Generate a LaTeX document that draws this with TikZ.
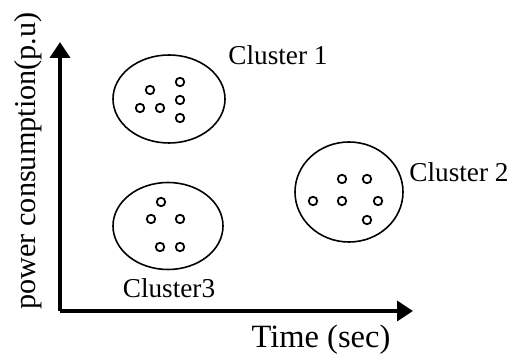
\documentclass[tikz,border=0pt]{standalone}
\usepackage{fontspec}
\setmainfont{Liberation Serif}
\usetikzlibrary{arrows.meta,shapes.geometric}
\tikzset{
  axis/.style={line width=2pt,-{Triangle[length=0.32cm,width=0.4cm]}},
  cluster/.style={draw,ellipse,line width=0.9pt,inner sep=0pt},
  member/.style={draw,line width=1pt},
  lbl/.style={font=\fontsize{15.5}{17}\selectfont,inner sep=0pt}
}
\begin{document}
\begin{tikzpicture}
\useasboundingbox (0,0) rectangle (10.2,7.08);
\coordinate (o) at (1.2,0.86);
\coordinate (ytip) at (1.2,6.24);
\coordinate (xtip) at (8.26,0.86);
\draw[axis] (o)--(ytip);
\draw[axis] (o)--(xtip);
\node[lbl,font=\fontsize{17.2}{19}\selectfont,rotate=90] (ylab) at (0.56,3.86) {power consumption(p.u)};
\node[lbl,font=\fontsize{18.5}{20}\selectfont] (xlab) at (6.42,0.28) {Time (sec)};
% the three clusters
\node[cluster,minimum width=2.24cm,minimum height=1.76cm] (c1) at (3.38,5.1) {};
\node[cluster,minimum width=2.2cm,minimum height=1.74cm] (c3) at (3.36,2.56) {};
\node[cluster,minimum width=2.16cm,minimum height=2.0cm] (c2) at (6.98,3.24) {};
\node[lbl] (c1lab) at (5.56,5.98) {Cluster 1};
\node[lbl] (c2lab) at (9.18,3.64) {Cluster 2};
\node[lbl] (c3lab) at (3.38,1.32) {Cluster3};
\foreach \p in {(3.0,5.28),(3.6,5.44),(3.6,5.08),(2.8,4.92),(3.2,4.92),(3.6,4.72)}
  \draw[member] \p circle (0.085);
\foreach \p in {(3.22,3.04),(3.02,2.7),(3.6,2.7),(3.2,2.14),(3.6,2.14)}
  \draw[member] \p circle (0.085);
\foreach \p in {(6.84,3.5),(7.34,3.5),(6.26,3.06),(6.84,3.06),(7.56,3.06),(7.34,2.68)}
  \draw[member] \p circle (0.085);
\end{tikzpicture}
\end{document}
